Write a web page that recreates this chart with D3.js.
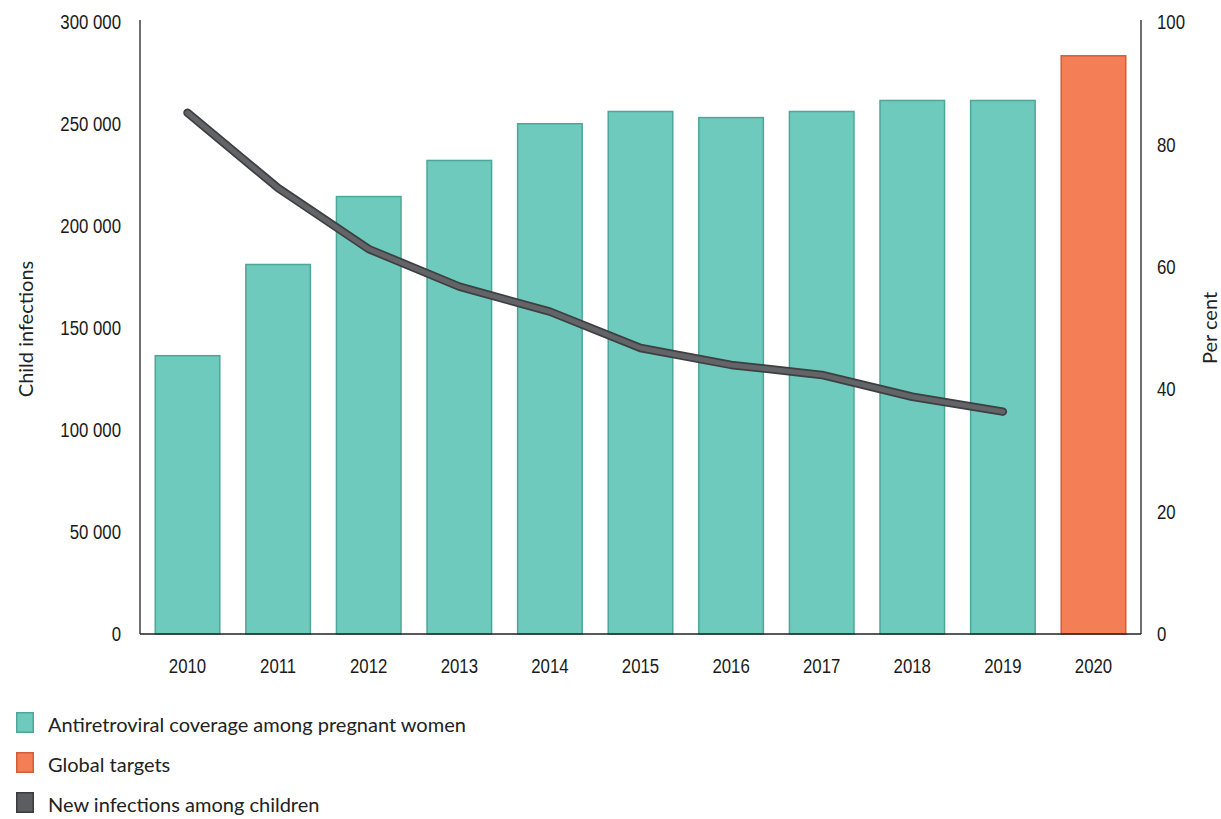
<!DOCTYPE html>
<html>
<head>
<meta charset="utf-8">
<script src="https://cdn.jsdelivr.net/npm/d3@7/dist/d3.min.js"></script>
<style>
  html, body { margin: 0; padding: 0; background: #fff; }
  svg { display: block; }
  .tick-num { font-family: "Liberation Sans", Arial, sans-serif; font-size: 21px; fill: #1a1a1a; }
  .lbl { font-family: Lato, "Noto Sans", sans-serif; font-size: 20px; fill: #222; }
</style>
</head>
<body>
<svg id="chart" width="1221" height="819"></svg>
<script>
// Years on the x axis
const years = ["2010","2011","2012","2013","2014","2015","2016","2017","2018","2019","2020"];
// Antiretroviral coverage among pregnant women (per cent, right axis)
const coverage = [45.6, 60.5, 71.6, 77.5, 83.5, 85.5, 84.5, 85.5, 87.3, 87.3, null];
// Global target for 2020 (per cent)
const target = [null, null, null, null, null, null, null, null, null, null, 94.6];
// New infections among children (left axis)
const infections = [255500, 218600, 188700, 170300, 158000, 140200, 131900, 127000, 116300, 109000];
// Axis ticks
const leftTicks = [0, 50000, 100000, 150000, 200000, 250000, 300000];
const rightTicks = [0, 20, 40, 60, 80, 100];
// Legend entries
const legendItems = [
  { label: "Antiretroviral coverage among pregnant women", fill: "#6ecabd", stroke: "#4ca796" },
  { label: "Global targets", fill: "#f47f57", stroke: "#d25d36" },
  { label: "New infections among children", fill: "#5c5d61", stroke: "#3a3b3e" }
];

const svg = d3.select("#chart");
const plotLeft = 140, plotRight = 1141, plotTop = 22, plotBottom = 634;

const x = d3.scaleBand().domain(years).range([plotLeft, plotRight]).paddingInner(0.271).paddingOuter(0.16);
const yL = d3.scaleLinear().domain([0, 300000]).range([plotBottom, plotTop]);
const yR = d3.scaleLinear().domain([0, 100]).range([plotBottom, plotTop]);

const fmt = v => d3.format(",")(v).replace(/,/g, " ");

// Bars: coverage
const g = svg.append("g");
g.selectAll("rect.cov").data(years.map((yr, i) => ({ yr, v: coverage[i] })).filter(d => d.v != null))
  .join("rect").attr("class", "cov")
  .attr("x", d => x(d.yr) + 0.75).attr("width", x.bandwidth() - 1.5)
  .attr("y", d => yR(d.v) + 0.75).attr("height", d => plotBottom - yR(d.v) - 0.75)
  .attr("fill", "#6ecabd").attr("stroke", "#4ca796").attr("stroke-width", 1.5);

// Bars: targets
g.selectAll("rect.tgt").data(years.map((yr, i) => ({ yr, v: target[i] })).filter(d => d.v != null))
  .join("rect").attr("class", "tgt")
  .attr("x", d => x(d.yr) + 0.75).attr("width", x.bandwidth() - 1.5)
  .attr("y", d => yR(d.v) + 0.75).attr("height", d => plotBottom - yR(d.v) - 0.75)
  .attr("fill", "#f47f57").attr("stroke", "#d25d36").attr("stroke-width", 1.5);

// Line: new infections
const line = d3.line()
  .x((d, i) => x(years[i]) + x.bandwidth() / 2)
  .y(d => yL(d));
svg.append("path").datum(infections).attr("d", line)
  .attr("fill", "none").attr("stroke", "#3e3f42").attr("stroke-width", 8.5)
  .attr("stroke-linecap", "round").attr("stroke-linejoin", "round");
svg.append("path").datum(infections).attr("d", line)
  .attr("fill", "none").attr("stroke", "#636468").attr("stroke-width", 5)
  .attr("stroke-linecap", "round").attr("stroke-linejoin", "round");

// Condensed numerals: squeeze each tick label horizontally around its anchor
function condense(sel) {
  sel.selectAll("text").each(function () {
    const t = d3.select(this);
    const tx = +t.attr("x") || 0;
    const ty = +t.attr("y") || 0;
    t.attr("x", 0).attr("y", 0)
      .attr("transform", `translate(${tx},${ty}) scale(0.8,1)`)
      .attr("class", "tick-num").attr("font-family", null).attr("font-size", null);
  });
}

// Axes
const axL = d3.axisLeft(yL).tickValues(leftTicks).tickFormat(fmt).tickSize(0).tickPadding(19);
const gl = svg.append("g").attr("transform", `translate(${plotLeft},0)`).call(axL);
gl.select(".domain").attr("d", `M0,${plotTop - 2}V${plotBottom}`).attr("stroke", "#222").attr("stroke-width", 1.3);
condense(gl);

const axR = d3.axisRight(yR).tickValues(rightTicks).tickFormat(d3.format("d")).tickSize(0).tickPadding(16);
const gr = svg.append("g").attr("transform", `translate(${plotRight},0)`).call(axR);
gr.select(".domain").attr("d", `M0,${plotTop - 2}V${plotBottom}`).attr("stroke", "#222").attr("stroke-width", 1.3);
condense(gr);

const axB = d3.axisBottom(x).tickSize(0).tickPadding(24);
const gb = svg.append("g").attr("transform", `translate(0,${plotBottom})`).call(axB);
gb.select(".domain").attr("d", `M${plotLeft},0H${plotRight}`).attr("stroke", "#222").attr("stroke-width", 1.3);
condense(gb);

// Axis titles
svg.append("text").attr("class", "lbl").attr("text-anchor", "middle")
  .attr("transform", `translate(33,${(plotTop + plotBottom) / 2 + 1}) rotate(-90)`).text("Child infections");
svg.append("text").attr("class", "lbl").attr("text-anchor", "middle")
  .attr("transform", `translate(1217,${(plotTop + plotBottom) / 2}) rotate(-90)`).text("Per cent");

// Legend
const lg = svg.append("g").attr("transform", "translate(16,712)");
const rows = lg.selectAll("g").data(legendItems).join("g")
  .attr("transform", (d, i) => `translate(0,${i * 40})`);
rows.append("rect").attr("x", 0.75).attr("y", 0.75).attr("width", 16.5).attr("height", 19.5)
  .attr("fill", d => d.fill).attr("stroke", d => d.stroke).attr("stroke-width", 1.5);
rows.append("text").attr("class", "lbl").attr("x", 32).attr("y", 13).attr("dy", "0.35em").text(d => d.label);
</script>
</body>
</html>
